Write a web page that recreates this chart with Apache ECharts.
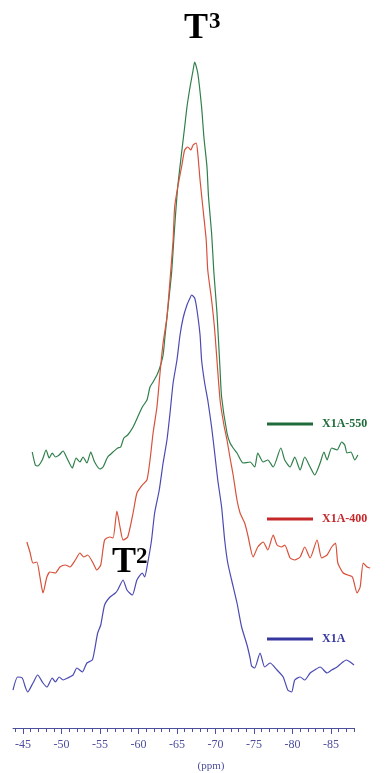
<!DOCTYPE html>
<html>
<head>
<meta charset="utf-8">
<script src="https://cdn.jsdelivr.net/npm/echarts@6/dist/echarts.min.js"></script>
<style>
  html, body { margin: 0; padding: 0; background: #fff; }
  #chart { width: 385px; height: 773px; }
</style>
</head>
<body>
<div id="chart"></div>
<script>
// Spectra: chemical shift (ppm) and intensity above each trace's own baseline
var x1a550Ppm = [-46.2, -46.6, -46.9, -47.5, -48.0, -48.4, -48.8, -49.2, -49.7, -50.2, -50.7, -51.4, -51.9, -52.4, -52.8, -53.3, -53.8, -54.3, -55.0, -55.4,
  -56.0, -56.7, -57.3, -57.7, -58.1, -58.6, -59.3, -59.9, -60.5, -61.1, -61.5, -61.9, -62.4, -62.8, -63.2, -63.4, -63.8, -64.3, -64.7, -65.1,
  -65.6, -66.0, -66.3, -66.7, -67.1, -67.3, -67.7, -68.2, -68.5, -68.9, -69.1, -69.5, -69.8, -70.2, -70.6, -70.8, -71.5, -71.9, -72.3, -72.8,
  -73.6, -74.5, -75.1, -75.5, -76.2, -76.8, -77.5, -78.5, -79.0, -79.7, -80.3, -81.0, -81.6, -82.3, -82.9, -83.6, -84.1, -84.5, -85.1, -85.8,
  -86.4, -86.8, -87.1, -87.6, -88.1, -88.5];
var x1a550Int = [6, -7, -8, -2, 8, 0, 5, 1, 3, 7, 0, -10, 0, -4, 1, -5, 6, -4, -11, -9,
  1, 6, 10, 11, 20, 23, 31, 41, 51, 58, 71, 76, 83, 91, 103, 118, 148, 185, 231, 271,
  305, 331, 351, 371, 388, 396, 385, 351, 321, 291, 261, 225, 185, 145, 88, 61, 25, 15, 10, 5,
  -5, -4, -9, 5, -4, -2, -9, 10, -2, -9, 1, -12, 1, -9, -17, -5, 6, -2, 10, 8,
  16, 13, 5, 6, -2, 3];

var x1a400Ppm = [-45.5, -45.9, -46.3, -46.8, -47.2, -47.6, -48.1, -48.5, -49.2, -49.8, -50.5, -51.1, -51.8, -52.4, -52.9, -53.4, -54.1, -54.6, -55.1, -55.6,
  -56.3, -56.7, -57.2, -57.6, -58.0, -58.6, -59.3, -59.8, -60.5, -61.1, -61.5, -61.9, -62.4, -62.8, -63.2, -63.7, -64.1, -64.5, -64.7, -65.1,
  -65.6, -66.0, -66.4, -66.8, -67.1, -67.5, -67.7, -68.0, -68.4, -68.8, -69.0, -69.5, -69.9, -70.6, -71.1, -71.5, -71.9, -72.3, -72.8, -73.2,
  -73.8, -74.2, -74.9, -75.5, -76.2, -76.8, -77.5, -78.0, -78.6, -79.0, -79.7, -80.3, -81.0, -81.6, -82.3, -83.2, -83.8, -84.5, -85.1, -85.6,
  -85.9, -86.6, -87.2, -87.8, -88.4, -88.8, -89.2, -89.7, -90.1];
var x1a400Int = [18, 8, -3, -2, -17, -33, -17, -12, -13, -7, -5, -7, 0, 7, 3, 5, -3, -10, -5, 20,
  23, 22, 49, 33, 20, 23, 47, 67, 75, 80, 100, 127, 153, 187, 217, 243, 280, 320, 353, 373,
  393, 410, 413, 410, 415, 417, 407, 380, 350, 320, 290, 260, 230, 160, 135, 120, 102, 85, 60, 47,
  37, 25, 3, 13, 18, 10, 25, 15, 13, 15, 2, 0, 3, 13, 2, 20, 2, 5, 13, 17,
  -3, -13, -15, -17, -33, -27, -3, -7, -8];

var x1aPpm = [-43.7, -44.3, -44.9, -45.3, -45.6, -46.3, -46.9, -47.6, -48.1, -48.8, -49.2, -49.7, -50.2, -50.8, -51.5, -52.0, -52.7, -53.3, -54.0, -54.3,
  -54.7, -55.1, -55.6, -56.3, -57.0, -57.3, -58.0, -58.5, -59.2, -59.8, -60.5, -60.8, -61.2, -61.7, -62.1, -62.7, -63.2, -63.7, -64.1, -64.5,
  -65.0, -65.4, -65.8, -66.3, -66.7, -66.9, -67.3, -67.6, -68.0, -68.2, -68.6, -69.0, -69.5, -69.9, -70.3, -70.8, -71.2, -71.6, -72.1, -72.8,
  -73.4, -74.1, -74.5, -74.7, -75.1, -75.8, -76.4, -77.1, -78.0, -78.8, -79.4, -79.9, -80.3, -81.0, -81.6, -82.3, -82.9, -83.6, -84.5, -85.1,
  -85.8, -86.4, -87.0, -87.5, -88.0];
var x1aInt = [-10, 3, 2, -7, -12, -3, 5, -3, -7, 2, -2, 3, 0, 2, 5, 12, 8, 17, 20, 30,
  47, 55, 75, 83, 87, 90, 100, 90, 85, 100, 107, 103, 117, 140, 167, 190, 217, 240, 267, 297,
  320, 345, 362, 375, 382, 385, 382, 370, 345, 320, 297, 280, 253, 227, 200, 173, 140, 117, 100, 77,
  53, 35, 22, 14, 12, 27, 13, 17, 10, 3, -10, -12, 0, 3, 0, 7, 10, 13, 7, 10,
  13, 17, 20, 18, 15];

// vertical stacking of the three traces
var seriesNames = ['X1A-550', 'X1A-400', 'X1A'];
var seriesOffsets = [270, 168, 48];
var seriesColors = ['#2f7f4a', '#d9513a', '#4a4ab4'];
var legendColors = ['#1f6b39', '#c4282a', '#3636a0'];
var legendTops = [418, 513, 633];

// axis
var majorTicks = [-45, -50, -55, -60, -65, -70, -75, -80, -85];
var minorTicks = [];
for (var t = -44; t >= -88; t--) minorTicks.push(t);
var axisMin = -88, axisMax = -43.7;   // drawn axis
var plotMin = -90.5;                  // traces run a bit past the axis end

var allPpm = [x1a550Ppm, x1a400Ppm, x1aPpm];
var allInt = [x1a550Int, x1a400Int, x1aInt];

var axisColor = '#4e4e9e';
var serif = '"Liberation Serif", "DejaVu Serif", serif';

var chart = echarts.init(document.getElementById('chart'));

// axis grid: left 13 -> right edge at 354px
var axisLeft = 13, axisRight = 31;
var pxPerPpm = (385 - axisLeft - axisRight) / (axisMax - axisMin);
var plotRight = 385 - axisLeft - (axisMax - plotMin) * pxPerPpm;

var series = [];
var legends = [];
for (var i = 0; i < 3; i++) {
  var pts = [];
  for (var j = 0; j < allPpm[i].length; j++) {
    pts.push([allPpm[i][j], seriesOffsets[i] + allInt[i][j]]);
  }
  series.push({
    name: seriesNames[i],
    type: 'line',
    xAxisIndex: 2,
    yAxisIndex: 1,
    data: pts,
    showSymbol: false,
    smooth: 0.2,
    color: seriesColors[i],
    lineStyle: { width: 1.2, color: seriesColors[i] }
  });
  legends.push({
    left: 267,
    top: legendTops[i],
    padding: 0,
    selectedMode: false,
    icon: 'rect',
    itemWidth: 46,
    itemHeight: 3,
    data: [{
      name: seriesNames[i],
      itemStyle: { color: legendColors[i] },
      textStyle: { color: legendColors[i] }
    }],
    textStyle: { fontFamily: serif, fontWeight: 'bold', fontSize: 12, padding: [0, 0, 0, 4] }
  });
}

var option = {
  animation: false,
  backgroundColor: '#fff',
  grid: [
    { left: axisLeft, right: axisRight, top: 0, bottom: 45 },
    { left: axisLeft, right: plotRight, top: 0, bottom: 45 }
  ],
  legend: legends,
  xAxis: [{
    type: 'value',
    gridIndex: 0,
    min: axisMin,
    max: axisMax,
    inverse: true,
    axisLine: { show: true, lineStyle: { color: axisColor, width: 1 } },
    axisTick: { show: true, length: 4, customValues: minorTicks, lineStyle: { color: axisColor } },
    axisLabel: { show: false },
    splitLine: { show: false }
  }, {
    type: 'value',
    gridIndex: 0,
    position: 'bottom',
    min: axisMin,
    max: axisMax,
    inverse: true,
    axisLine: { show: false },
    axisTick: { show: true, length: 6, customValues: majorTicks, lineStyle: { color: axisColor } },
    axisLabel: {
      show: true,
      customValues: majorTicks,
      margin: 11,
      color: axisColor,
      fontFamily: serif,
      fontSize: 12
    },
    splitLine: { show: false }
  }, {
    type: 'value',
    gridIndex: 1,
    min: plotMin,
    max: axisMax,
    inverse: true,
    show: false
  }],
  yAxis: [
    { type: 'value', gridIndex: 0, min: 0, max: 728, show: false },
    { type: 'value', gridIndex: 1, min: 0, max: 728, show: false }
  ],
  series: series,
  graphic: [
    { type: 'text', x: 184, y: 29, style: { text: 'T', font: 'bold 36px ' + serif, fill: '#000', verticalAlign: 'middle' } },
    { type: 'text', x: 209, y: 22, style: { text: '3', font: 'bold 23px ' + serif, fill: '#000', verticalAlign: 'middle' } },
    { type: 'text', x: 112, y: 563, style: { text: 'T', font: 'bold 36px ' + serif, fill: '#000', verticalAlign: 'middle' } },
    { type: 'text', x: 136, y: 557, style: { text: '2', font: 'bold 23px ' + serif, fill: '#000', verticalAlign: 'middle' } },
    { type: 'text', x: 211, y: 766, style: { text: '(ppm)', font: '11px ' + serif, fill: axisColor, align: 'center', verticalAlign: 'middle' } }
  ]
};

chart.setOption(option);
</script>
</body>
</html>
